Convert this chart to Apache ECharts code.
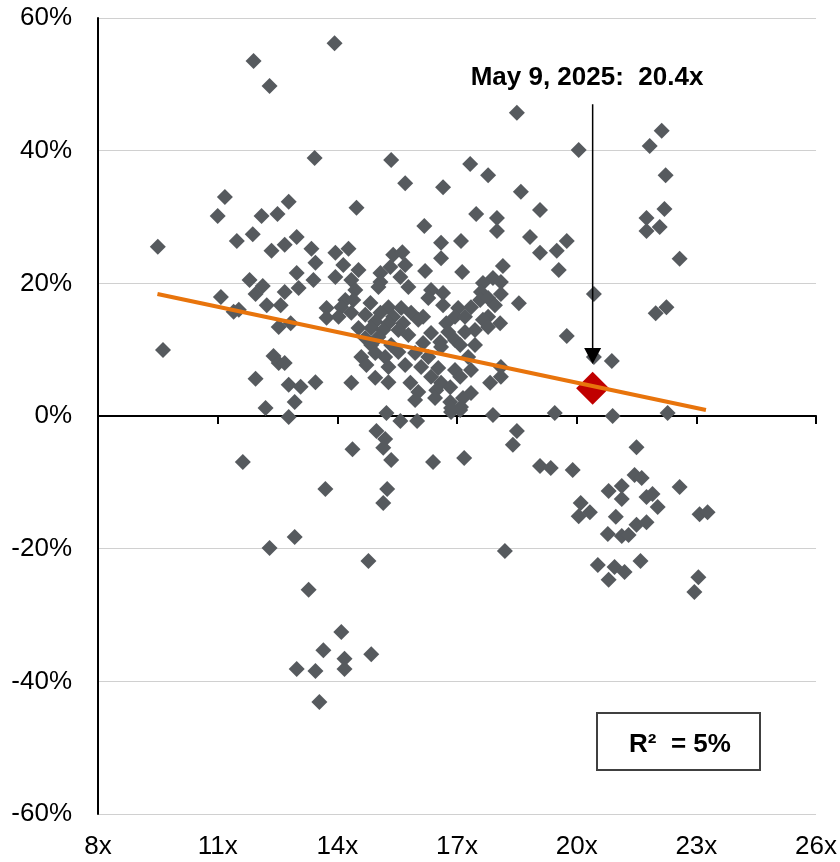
<!DOCTYPE html>
<html>
<head>
<meta charset="utf-8">
<title>P/E vs forward return</title>
<script src="https://cdn.jsdelivr.net/npm/echarts@6/dist/echarts.min.js"></script>
<style>
  html, body { margin: 0; padding: 0; background: #fff; }
  #scatterChart { width: 840px; height: 862px; }
</style>
</head>
<body>
<div id="scatterChart"></div>
<script>
// forward P/E (x) vs next-12m return in % (y)
const peReturnPoints = [
  [11.9, 53.5], [12.3, 49.75], [13.43, 38.9], [11.18, 33.0], [11.0, 30.15], [12.1, 30.15],
  [12.5, 30.45], [12.78, 32.3], [9.5, 25.5], [11.48, 26.4], [11.88, 27.4], [12.35, 24.9],
  [12.68, 25.8], [12.98, 27.0], [13.35, 25.2], [12.98, 21.55], [11.8, 20.5], [12.13, 19.6],
  [11.95, 18.4], [12.68, 18.7], [13.03, 19.3], [11.08, 17.95], [12.23, 16.7], [12.58, 16.7],
  [11.4, 15.7], [11.53, 16.0], [12.53, 13.4], [12.83, 14.0], [9.63, 9.95], [12.4, 9.05],
  [12.53, 8.0], [12.68, 8.0], [11.95, 5.6], [12.78, 4.7], [13.08, 4.4], [13.45, 5.1],
  [12.93, 2.1], [12.2, 1.2], [12.78, -0.15], [13.4, 20.5], [13.45, 23.1],
  [13.93, 56.2], [18.5, 45.7], [15.35, 38.6], [15.7, 35.1], [16.65, 34.5], [17.33, 38.0],
  [17.78, 36.3], [14.48, 31.4], [16.18, 28.65], [16.6, 26.1], [17.1, 26.4], [17.48, 30.45],
  [18.0, 29.85], [18.0, 27.9], [13.95, 24.6], [14.28, 25.2], [15.4, 24.3], [15.63, 24.7],
  [16.6, 23.8],
  [20.05, 40.1], [21.83, 40.7], [22.13, 43.0], [22.23, 36.3], [18.6, 33.8], [19.08, 31.05],
  [18.83, 27.0], [19.08, 24.6], [19.5, 24.9], [19.75, 26.4], [22.2, 31.2], [21.75, 29.85],
  [22.08, 28.5], [21.75, 27.9], [22.58, 23.7],
  [19.55, 22.0], [18.15, 22.6], [18.1, 18.4], [18.55, 17.0], [20.43, 18.4], [21.98, 15.5],
  [22.25, 16.4], [19.75, 12.05], [20.43, 8.9], [20.88, 8.3], [18.1, 7.4], [18.1, 5.9],
  [19.45, 0.45], [20.9, 0.0], [22.28, 0.45], [18.08, 14.0],
  [15.23, 0.45], [15.58, -0.75], [16.0, -0.75], [14.98, -2.25], [15.2, -3.45], [15.15, -4.8],
  [14.38, -5.0], [15.35, -6.65], [11.63, -6.95], [13.7, -11.0], [15.25, -11.0], [15.15, -13.1],
  [12.93, -18.25], [12.3, -19.9], [14.78, -21.85], [13.28, -26.2], [14.1, -32.55], [13.65, -35.3],
  [14.85, -35.9], [14.18, -36.6], [14.18, -38.15], [12.98, -38.15], [13.45, -38.45], [13.55, -43.1],
  [16.85, 0.6], [17.08, 0.9], [17.9, 0.15], [18.5, -2.25], [18.4, -4.35], [21.5, -4.7],
  [16.4, -6.95], [17.18, -6.35], [19.08, -7.55], [19.35, -7.85], [19.9, -8.15], [21.45, -8.9],
  [21.63, -9.35], [22.58, -10.7], [20.8, -11.3], [21.13, -10.55], [21.13, -12.5], [21.75, -12.2],
  [21.9, -11.75], [22.03, -13.7], [20.1, -13.1], [20.33, -14.5], [20.05, -15.1], [20.98, -15.2],
  [21.5, -16.4], [21.75, -16.0], [20.78, -17.8], [21.13, -18.1], [21.3, -17.95], [23.08, -14.8],
  [23.28, -14.5], [18.2, -20.35], [20.53, -22.45], [20.95, -22.75], [21.2, -23.5], [20.8, -24.7],
  [21.6, -21.85], [23.05, -24.3], [22.95, -26.55],
  [14.15, 22.75], [14.53, 22.0], [15.7, 22.75], [15.33, 22.45], [15.08, 21.55], [16.2, 21.85],
  [17.13, 21.7], [13.95, 20.95], [15.08, 20.2], [15.58, 20.95], [17.9, 20.8], [14.35, 20.5],
  [14.45, 19.0], [15.03, 19.45], [15.78, 19.45], [17.65, 20.05], [18.1, 20.2], [16.35, 19.0],
  [16.65, 18.55], [16.28, 17.8], [17.6, 18.7], [14.2, 17.5], [14.4, 17.5], [16.65, 16.7],
  [17.58, 17.5], [17.78, 17.8], [13.73, 16.3], [14.1, 16.4], [14.83, 17.05], [15.28, 16.4],
  [15.6, 16.3], [17.03, 16.3], [17.35, 16.4], [17.95, 16.7], [13.73, 14.8], [14.03, 14.95],
  [14.35, 15.55], [14.7, 15.25], [15.08, 15.55], [15.4, 14.95], [15.85, 15.55], [16.15, 14.95],
  [16.95, 14.95], [17.2, 14.95], [17.78, 14.95], [14.95, 14.2], [15.28, 14.0], [15.65, 14.0],
  [16.03, 14.5], [16.73, 14.0], [17.65, 14.5], [14.53, 13.25], [14.85, 13.25], [15.15, 12.95],
  [15.53, 12.95], [16.35, 12.5], [16.78, 12.65], [17.2, 12.65], [17.45, 12.95], [17.78, 13.4],
  [14.7, 11.75], [15.03, 11.9], [15.78, 12.2], [16.58, 11.15], [16.95, 11.45], [14.85, 10.7],
  [15.35, 10.7], [16.15, 11.0], [16.6, 10.4], [17.08, 10.7], [17.45, 10.7], [14.6, 8.9],
  [14.95, 9.5], [15.2, 8.9], [15.53, 9.65], [15.95, 9.5], [16.28, 8.9], [17.28, 8.9],
  [14.73, 7.7], [15.28, 7.4], [15.7, 7.7], [16.1, 7.4], [16.53, 7.25], [16.95, 6.95],
  [17.35, 6.95], [14.35, 5.0], [14.95, 5.75], [15.28, 5.1], [15.83, 5.0], [16.35, 5.9],
  [16.6, 5.0], [17.08, 5.9], [16.03, 3.6], [16.48, 3.9], [16.83, 4.35], [17.35, 3.45],
  [17.83, 5.0], [15.95, 2.4], [16.45, 2.7], [16.83, 2.1], [17.15, 2.7], [16.85, 1.2],
  [17.1, 1.35]
];

const currentPoint = [20.4, 4.2];            // May 9, 2025
const trendLine = [[9.49, 18.4], [23.24, 0.9]];
const arrowLine = [[20.4, 47.0], [20.4, 9.05]];

const xTicks = { min: 8, max: 26, interval: 3 };
const yTicks = { min: -60, max: 60, interval: 20 };

const FONT = '"Liberation Sans", Arial, sans-serif';

const myChart = echarts.init(document.getElementById('scatterChart'));

const option = {
  animation: false,
  grid: { left: 98, right: 20, top: 18, bottom: 48 },
  xAxis: [
    {
      type: 'value',
      min: xTicks.min, max: xTicks.max, interval: xTicks.interval,
      axisLine: { show: false, onZero: false },
      axisTick: { show: false },
      splitLine: { show: false },
      axisLabel: { formatter: '{value}x', color: '#000', fontSize: 26, fontFamily: FONT, margin: 20 }
    },
    {
      // axis line drawn across the 0% level, with ticks hanging down
      type: 'value',
      position: 'top',
      min: xTicks.min, max: xTicks.max, interval: xTicks.interval,
      axisLine: { show: true, onZero: true, lineStyle: { color: '#000', width: 2 } },
      axisTick: { show: true, inside: true, length: 8, lineStyle: { color: '#000', width: 2 } },
      axisLabel: { show: false },
      splitLine: { show: false }
    }
  ],
  yAxis: {
    type: 'value',
    min: yTicks.min, max: yTicks.max, interval: yTicks.interval,
    axisLine: { show: true, onZero: false, lineStyle: { color: '#000', width: 2 } },
    axisTick: { show: false },
    splitLine: { show: true, lineStyle: { color: '#d0d0d0', width: 1 } },
    axisLabel: { formatter: '{value}%', color: '#000', fontSize: 26, fontFamily: FONT, margin: 26 }
  },
  graphic: [
    {
      type: 'text',
      x: 587, y: 78,
      style: { text: 'May 9, 2025:  20.4x', fill: '#000', font: 'bold 26px ' + FONT, align: 'center', verticalAlign: 'middle' }
    },
    {
      type: 'rect',
      shape: { x: 597, y: 713, width: 163, height: 57 },
      style: { fill: '#fff', stroke: '#404040', lineWidth: 2 }
    },
    {
      type: 'text',
      x: 680, y: 745,
      style: { text: 'R²  = 5%', fill: '#000', font: 'bold 26px ' + FONT, align: 'center', verticalAlign: 'middle' }
    }
  ],
  series: [
    {
      type: 'scatter',
      symbol: 'diamond',
      symbolSize: 16,
      itemStyle: { color: '#565a5e', opacity: 1 },
      data: peReturnPoints
    },
    {
      type: 'scatter',
      symbol: 'diamond',
      symbolSize: 33,
      itemStyle: { color: '#c00000', opacity: 1 },
      data: [currentPoint]
    },
    {
      type: 'line',
      showSymbol: false,
      lineStyle: { color: '#e8740c', width: 4 },
      data: trendLine
    },
    {
      type: 'line',
      lineStyle: { color: '#000', width: 1.5 },
      data: [
        { value: arrowLine[0], symbol: 'none' },
        { value: arrowLine[1], symbol: 'triangle', symbolRotate: 180, symbolSize: [17, 16], itemStyle: { color: '#000' } }
      ]
    }
  ]
};

myChart.setOption(option);
</script>
</body>
</html>
